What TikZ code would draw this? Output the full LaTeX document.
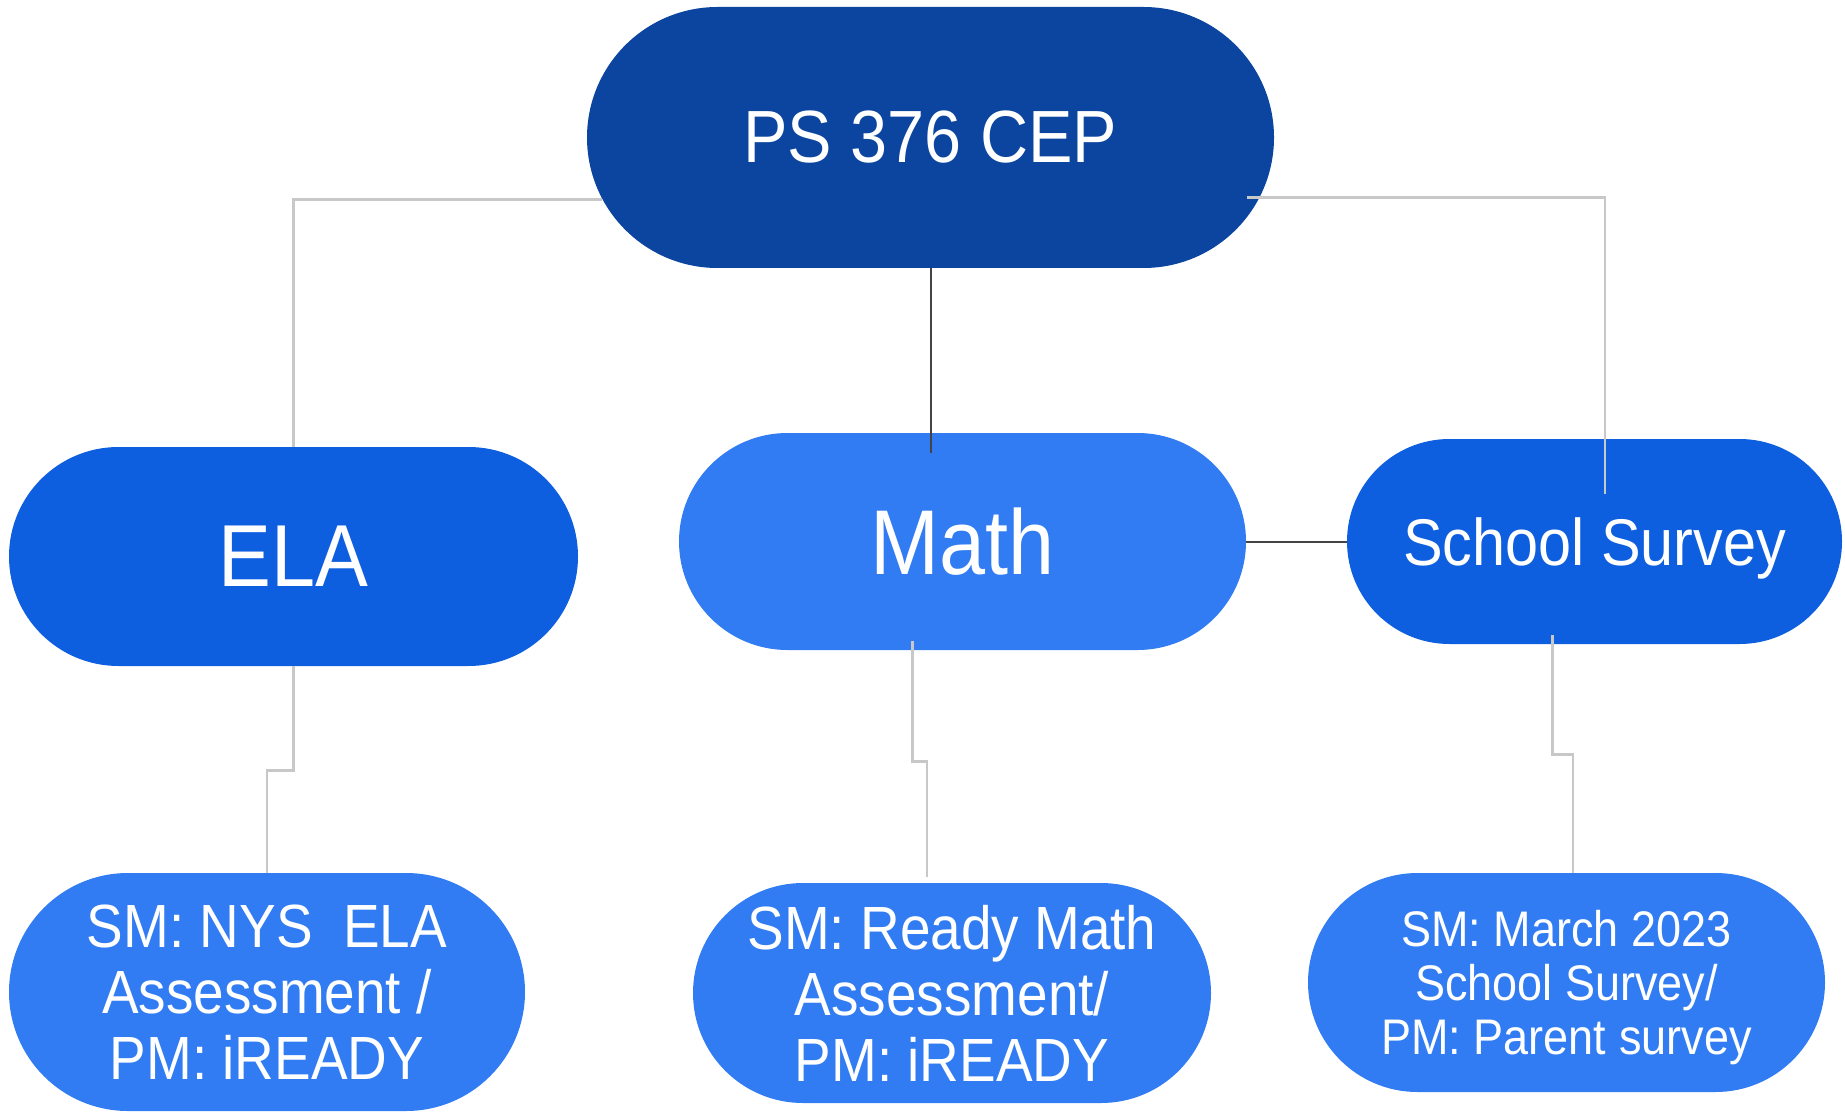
\documentclass[tikz,border=0pt]{standalone}
\usepackage{fontspec}
\setmainfont{Liberation Sans}[FakeStretch=0.9]
\usetikzlibrary{calc}

\definecolor{rootblue}{HTML}{0B45A0}
\definecolor{midblue}{HTML}{0E5FDF}
\definecolor{lightblue}{HTML}{327CF3}
\definecolor{linegray}{HTML}{C8C8C8}
\definecolor{linedark}{HTML}{444444}

\tikzset{
	pill/.style 2 args={rectangle, inner sep=0pt, text=white, align=center,
		minimum width=#1, minimum height=#2, rounded corners=0.5*#2},
	conn/.style={draw=linegray, line width=1.2pt},
	darkconn/.style={draw=linedark, line width=1pt}
}

\begin{document}
\begin{tikzpicture}[x=0.5pt, y=-0.5pt]
	\useasboundingbox (0,0) rectangle (1845,1117);
	% top level
	\node[pill={343.5pt}{130.5pt}, fill=rootblue, font=\fontsize{37}{44}\selectfont] (root) at (930.5,137.5) {PS 376 CEP};
	% middle row
	\node[pill={284.5pt}{109.5pt}, fill=midblue, font=\fontsize{44}{52}\selectfont] (ela) at (293.5,556.5) {ELA};
	\node[pill={283.5pt}{108.5pt}, fill=lightblue, font=\fontsize{46}{54}\selectfont] (math) at (962.5,541.5) {Math};
	\node[pill={247.5pt}{102.5pt}, fill=midblue, text depth=0pt, font=\fontsize{33}{40}\selectfont] (survey) at (1594.5,541.5) {School Survey};
	% bottom row
	\node[pill={258pt}{119pt}, fill=lightblue, font=\fontsize{30.5}{33}\selectfont] (elasub) at (267,992) {SM: NYS\ \ ELA\\Assessment /\\PM: iREADY};
	\node[pill={259pt}{110pt}, fill=lightblue, font=\fontsize{30.5}{33}\selectfont] (mathsub) at (952,993) {SM: Ready Math\\Assessment/\\PM: iREADY};
	\node[pill={258.5pt}{109.5pt}, fill=lightblue, text depth=0pt, font=\fontsize{25}{27}\selectfont] (surveysub) at (1566.5,982.5) {SM: March 2023\\School Survey/\\PM: Parent survey};

	\draw[conn] ([xshift=7.5pt,yshift=-31pt]root.west) -| (ela.north);
	\draw[conn] ([xshift=-13.5pt,yshift=-30pt]root.east) -| ([xshift=5.25pt,yshift=-27.5pt]survey.north);
	\draw[darkconn] (root.south) -- ($(root.south |- math.north)+(0,-10pt)$);
	\draw[darkconn] (math.east) -- (survey.west);

	\draw[conn] (ela.south) -- ++(0,-52pt) -| (elasub.north);
	\draw[conn] ([xshift=-25pt,yshift=4.5pt]math.south) -- ++(0,-60pt) -| ([xshift=-12.5pt,yshift=3pt]mathsub.north);
	\draw[conn] ([xshift=-21pt,yshift=4.5pt]survey.south) -- ++(0,-59.5pt) -| ([xshift=3.25pt]surveysub.north);
\end{tikzpicture}
\end{document}
